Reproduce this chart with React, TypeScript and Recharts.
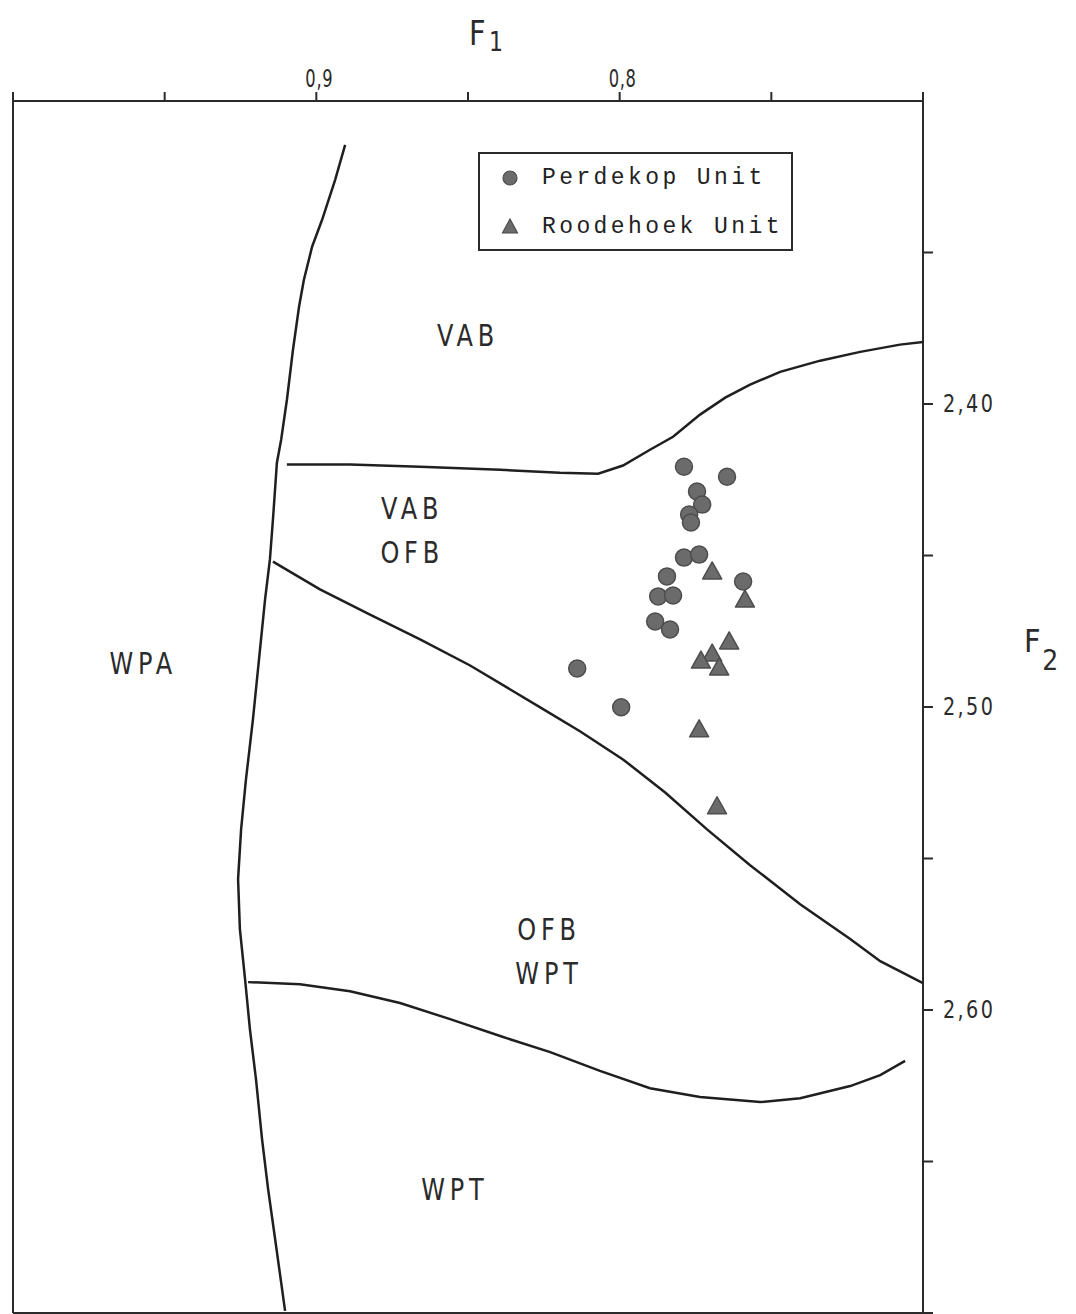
import React from 'react'
import { ScatterChart, Scatter, XAxis, YAxis, ReferenceLine } from 'recharts'

// F1 runs right-to-left, F2 runs top-to-bottom
const F1_TICKS = [1.0, 0.95, 0.9, 0.85, 0.8, 0.75, 0.7]
const F1_LABELED = [0.9, 0.8]
const F2_TICKS = [2.35, 2.4, 2.45, 2.5, 2.55, 2.6, 2.65, 2.7]
const F2_LABELED = [2.4, 2.5, 2.6]

// samples
const perdekop = [
  { x: 0.7788, y: 2.4207 },
  { x: 0.7646, y: 2.424 },
  { x: 0.7745, y: 2.4289 },
  { x: 0.7728, y: 2.4332 },
  { x: 0.7771, y: 2.4365 },
  { x: 0.7765, y: 2.4391 },
  { x: 0.7788, y: 2.4507 },
  { x: 0.7738, y: 2.4497 },
  { x: 0.7844, y: 2.4569 },
  { x: 0.7873, y: 2.4635 },
  { x: 0.7824, y: 2.4632 },
  { x: 0.7883, y: 2.4718 },
  { x: 0.7834, y: 2.4744 },
  { x: 0.7593, y: 2.4586 },
  { x: 0.814, y: 2.4873 },
  { x: 0.7995, y: 2.5001 },
]

const roodehoek = [
  { x: 0.7695, y: 2.4556 },
  { x: 0.7587, y: 2.4649 },
  { x: 0.7639, y: 2.4787 },
  { x: 0.7695, y: 2.4827 },
  { x: 0.7732, y: 2.485 },
  { x: 0.7672, y: 2.4873 },
  { x: 0.7738, y: 2.5077 },
  { x: 0.7679, y: 2.5331 },
]

// field boundaries
const wpaBoundary = [
  { x: 0.8905, y: 2.3145 }, { x: 0.8938, y: 2.326 }, { x: 0.8981, y: 2.3392 },
  { x: 0.9014, y: 2.3481 }, { x: 0.9041, y: 2.359 }, { x: 0.9057, y: 2.3679 },
  { x: 0.9077, y: 2.3821 }, { x: 0.9097, y: 2.3986 }, { x: 0.9116, y: 2.4118 },
  { x: 0.913, y: 2.4194 }, { x: 0.9143, y: 2.4381 }, { x: 0.9153, y: 2.4513 },
  { x: 0.9169, y: 2.4645 }, { x: 0.9189, y: 2.4843 }, { x: 0.9209, y: 2.5041 },
  { x: 0.9232, y: 2.5239 }, { x: 0.9248, y: 2.5404 }, { x: 0.9258, y: 2.5568 },
  { x: 0.9252, y: 2.5733 }, { x: 0.9235, y: 2.5898 }, { x: 0.9219, y: 2.6063 },
  { x: 0.9199, y: 2.6228 }, { x: 0.9179, y: 2.6426 }, { x: 0.9159, y: 2.6591 },
  { x: 0.9136, y: 2.6755 }, { x: 0.9103, y: 2.6993 },
]

const vabBoundary = [
  { x: 0.9097, y: 2.42 }, { x: 0.8889, y: 2.42 }, { x: 0.8658, y: 2.4207 },
  { x: 0.8394, y: 2.4217 }, { x: 0.8197, y: 2.4227 }, { x: 0.8071, y: 2.423 },
  { x: 0.7989, y: 2.4203 }, { x: 0.79, y: 2.4151 }, { x: 0.7824, y: 2.4108 },
  { x: 0.7735, y: 2.4035 }, { x: 0.7652, y: 2.3979 }, { x: 0.757, y: 2.3936 },
  { x: 0.7471, y: 2.3894 }, { x: 0.7339, y: 2.3857 }, { x: 0.7207, y: 2.3828 },
  { x: 0.7076, y: 2.3804 }, { x: 0.7, y: 2.3795 },
]

const ofbBoundary = [
  { x: 0.9143, y: 2.452 }, { x: 0.8988, y: 2.4612 }, { x: 0.8823, y: 2.4695 },
  { x: 0.8658, y: 2.4777 }, { x: 0.8493, y: 2.4863 }, { x: 0.8262, y: 2.5001 },
  { x: 0.8131, y: 2.508 }, { x: 0.7989, y: 2.5173 }, { x: 0.785, y: 2.5282 },
  { x: 0.7712, y: 2.5404 }, { x: 0.757, y: 2.5522 }, { x: 0.7405, y: 2.5651 },
  { x: 0.724, y: 2.5766 }, { x: 0.7141, y: 2.5839 }, { x: 0.7, y: 2.5911 },
]

const wptBoundary = [
  { x: 0.9225, y: 2.5908 }, { x: 0.9054, y: 2.5915 }, { x: 0.8889, y: 2.5938 },
  { x: 0.8724, y: 2.5977 }, { x: 0.8559, y: 2.603 }, { x: 0.8394, y: 2.6086 },
  { x: 0.8229, y: 2.6139 }, { x: 0.8065, y: 2.6201 }, { x: 0.79, y: 2.6258 },
  { x: 0.7735, y: 2.6287 }, { x: 0.7537, y: 2.6304 }, { x: 0.7405, y: 2.6291 },
  { x: 0.724, y: 2.6251 }, { x: 0.7141, y: 2.6215 }, { x: 0.7059, y: 2.6168 },
]

// field names, anchored at the first line's centre
const fieldLabels = [
  { x: 0.85, y: 2.3772, lines: ['VAB'] },
  { x: 0.8684, y: 2.4342, lines: ['VAB', 'OFB'] },
  { x: 0.9571, y: 2.4853, lines: ['WPA'] },
  { x: 0.8233, y: 2.5733, lines: ['OFB', 'WPT'] },
  { x: 0.8543, y: 2.659, lines: ['WPT'] },
]

const INK = '#2b2b2b'
const MARK_FILL = '#6b6b6b'
const MARK_STROKE = '#4d4d4d'
const LABEL_FONT = '"DejaVu Sans", sans-serif'
const MONO_FONT = '"Liberation Mono", "DejaVu Sans Mono", monospace'

const near = (list: number[], v: number) => list.some((t) => Math.abs(t - v) < 1e-6)
const comma = (v: number, d: number) => v.toFixed(d).replace('.', ',')

const Dot = (props: any) => {
  const { cx, cy } = props
  return <circle cx={cx} cy={cy} r={8.5} fill={MARK_FILL} stroke={MARK_STROKE} strokeWidth={1.5} />
}

const Tri = (props: any) => {
  const { cx, cy } = props
  const h = 17
  const w = 19
  const pts = `${cx},${cy - h * 0.62} ${cx - w / 2},${cy + h * 0.38} ${cx + w / 2},${cy + h * 0.38}`
  return <polygon points={pts} fill={MARK_FILL} stroke={MARK_STROKE} strokeWidth={1.5} strokeLinejoin="round" />
}

const NoMark = () => <g />

// stencil lettering is narrow, so squeeze the glyphs horizontally
const FieldName = (props: any) => {
  const { cx, cy, payload } = props
  return (
    <text
      transform={`translate(${cx},${cy}) scale(0.8,1)`}
      textAnchor="middle"
      dominantBaseline="central"
      fontFamily={LABEL_FONT}
      fontSize={30}
      letterSpacing={6}
      fill={INK}
    >
      {payload.lines.map((s: string, i: number) => (
        <tspan key={s + i} x={0} dy={i === 0 ? 0 : 44}>
          {s}
        </tspan>
      ))}
    </text>
  )
}

const F1Tick = (props: any) => {
  const { x, y, payload } = props
  if (!near(F1_LABELED, payload.value)) return <g />
  return (
    <text transform={`translate(${x + 3},${y - 2}) scale(0.68,1)`} textAnchor="middle" fontFamily={LABEL_FONT} fontSize={24} letterSpacing={1} fill={INK}>
      {comma(payload.value, 1)}
    </text>
  )
}

const F2Tick = (props: any) => {
  const { x, y, payload } = props
  if (!near(F2_LABELED, payload.value)) return <g />
  return (
    <text transform={`translate(${x},${y}) scale(0.8,1)`} textAnchor="start" dominantBaseline="central" fontFamily={LABEL_FONT} fontSize={24} letterSpacing={3} fill={INK}>
      {comma(payload.value, 2)}
    </text>
  )
}

// key box in the upper right of the plot
const LegendBox = () => (
  <svg width={315} height={99} style={{ position: 'absolute', left: 478, top: 152 }}>
    <rect x={1} y={1} width={313} height={97} fill="#fff" stroke={INK} strokeWidth={2} />
    <circle cx={32} cy={26} r={7} fill={MARK_FILL} stroke={MARK_STROKE} strokeWidth={1.2} />
    <polygon points="32,67 24.5,81 39.5,81" fill={MARK_FILL} stroke={MARK_STROKE} strokeWidth={1.2} />
    <text x={64} y={26} dominantBaseline="central" fontFamily={MONO_FONT} fontSize={23} letterSpacing={3.4} fill="#222">
      Perdekop Unit
    </text>
    <text x={64} y={75} dominantBaseline="central" fontFamily={MONO_FONT} fontSize={23} letterSpacing={3.4} fill="#222">
      Roodehoek Unit
    </text>
  </svg>
)

const boundaryLine = { stroke: '#1f1f1f', strokeWidth: 2.5 }

export default function App() {
  return (
    <div style={{ position: 'absolute', left: 0, top: 0, width: 1076, height: 1314, background: '#fff' }}>
      <ScatterChart width={1076} height={1314} margin={{ top: 61, right: 93, bottom: 1, left: 13 }}>
        <XAxis
          xAxisId={0}
          type="number"
          dataKey="x"
          orientation="top"
          height={40}
          domain={[0.7, 1.0]}
          reversed
          allowDataOverflow
          ticks={F1_TICKS}
          interval={0}
          tickSize={9}
          tickMargin={3}
          tick={F1Tick}
          stroke={INK}
          strokeWidth={2}
        />
        <YAxis
          yAxisId={0}
          type="number"
          dataKey="y"
          orientation="right"
          width={60}
          domain={[2.3, 2.7]}
          reversed
          allowDataOverflow
          ticks={F2_TICKS}
          interval={0}
          tickSize={10}
          tickMargin={10}
          tick={F2Tick}
          stroke={INK}
          strokeWidth={2}
        />
        <ReferenceLine x={1.0} stroke={INK} strokeWidth={2} />
        <ReferenceLine y={2.7} stroke={INK} strokeWidth={2} />

        <Scatter data={wpaBoundary} line={boundaryLine} lineType="joint" shape={NoMark} isAnimationActive={false} />
        <Scatter data={vabBoundary} line={boundaryLine} lineType="joint" shape={NoMark} isAnimationActive={false} />
        <Scatter data={ofbBoundary} line={boundaryLine} lineType="joint" shape={NoMark} isAnimationActive={false} />
        <Scatter data={wptBoundary} line={boundaryLine} lineType="joint" shape={NoMark} isAnimationActive={false} />

        <Scatter data={fieldLabels} shape={FieldName} isAnimationActive={false} />

        <Scatter name="Perdekop Unit" data={perdekop} shape={Dot} isAnimationActive={false} />
        <Scatter name="Roodehoek Unit" data={roodehoek} shape={Tri} isAnimationActive={false} />
      </ScatterChart>

      <LegendBox />

      {/* axis titles */}
      <div style={{ position: 'absolute', left: 469, top: 13, fontFamily: LABEL_FONT, fontSize: 34, color: INK, transform: 'scaleX(0.85)', transformOrigin: 'left' }}>
        F<span style={{ fontSize: 26, position: 'relative', top: 6, left: 4 }}>1</span>
      </div>
      <div style={{ position: 'absolute', left: 1024, top: 622, fontFamily: LABEL_FONT, fontSize: 32, color: INK, transform: 'scaleX(0.9)', transformOrigin: 'left' }}>
        F<span style={{ fontSize: 28, position: 'relative', top: 18, left: 2 }}>2</span>
      </div>
    </div>
  )
}
